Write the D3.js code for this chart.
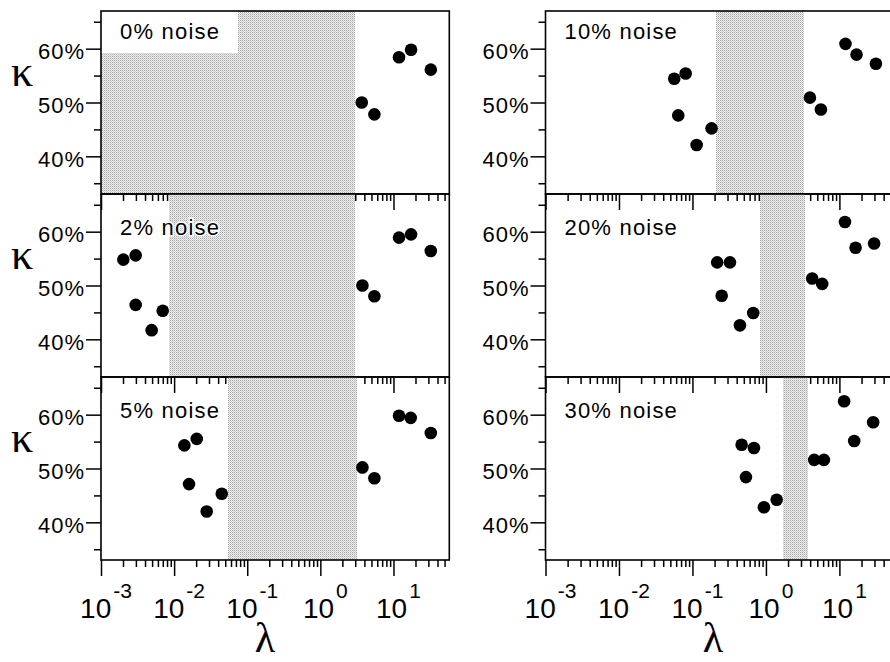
<!DOCTYPE html>
<html><head><meta charset="utf-8">
<script src="https://cdn.jsdelivr.net/npm/d3@7/dist/d3.min.js"></script>
<style>body{margin:0;background:#fff}svg{display:block}</style>
</head><body>
<svg id="c" width="890" height="662"></svg>
<script>
// ---- data ----
const noiseLabels = ["0% noise","2% noise","5% noise","10% noise","20% noise","30% noise"];
const decadeExps = [-3,-2,-1,0,1];
const kappaMajor = [0.40,0.50,0.60];
const kappaMinor = [0.35,0.45,0.55,0.65];
const shadeLo = [0.001, 0.0084, 0.054, 0.209, 0.828, 1.72];
const shadeHi = [2.99, 2.99, 3.15, 3.29, 3.40, 3.69];
const labelBox = [true,false,false,false,false,false];

const lambda0 = [3.68, 5.48, 11.9, 17.4, 32.4];
const kappa0  = [50.0, 47.8, 58.4, 59.8, 56.1];
const lambda2 = [0.00202, 0.00298, 0.00298, 0.00493, 0.00698, 3.76, 5.48, 11.9, 17.4, 32.4];
const kappa2  = [54.8, 55.6, 46.4, 41.7, 45.3, 50.0, 48.0, 58.9, 59.5, 56.4];
const lambda5 = [0.0138, 0.0204, 0.016, 0.0279, 0.0448, 3.76, 5.48, 11.9, 17.2, 32.4];
const kappa5  = [54.3, 55.5, 47.1, 42.0, 45.3, 50.2, 48.2, 59.8, 59.4, 56.6];
const lambda10 = [0.0565, 0.0808, 0.0641, 0.114, 0.182, 3.97, 5.6, 12.1, 17.1, 31.4];
const kappa10  = [54.4, 55.4, 47.6, 42.1, 45.2, 50.9, 48.7, 60.9, 58.9, 57.2];
const lambda20 = [0.217, 0.324, 0.25, 0.443, 0.672, 4.26, 5.83, 11.9, 16.6, 29.7];
const kappa20  = [54.3, 54.3, 48.1, 42.6, 44.9, 51.3, 50.3, 61.8, 57.0, 57.8];
const lambda30 = [0.467, 0.687, 0.535, 0.94, 1.40, 4.54, 6.15, 11.6, 15.9, 28.8];
const kappa30  = [54.4, 53.8, 48.4, 42.8, 44.2, 51.6, 51.6, 62.5, 55.1, 58.6];

const lambdas = [lambda0, lambda2, lambda5, lambda10, lambda20, lambda30];
const kappas  = [kappa0, kappa2, kappa5, kappa10, kappa20, kappa30];

// ---- layout ----
const colLeft = [101, 545.5], colWidth = [348.3, 350];
const rowTop = [11, 194, 377], panelH = 183;
const xDomain = [0.001, 58], yDomain = [0.33, 0.67];
const sans = "'Liberation Sans', Arial, Helvetica, sans-serif";
const serif = "'Liberation Serif', 'Times New Roman', serif";

const svg = d3.select("#c");
const defs = svg.append("defs");
const pat = defs.append("pattern").attr("id","stip").attr("width",2).attr("height",2)
  .attr("patternUnits","userSpaceOnUse");
pat.append("rect").attr("width",2).attr("height",2).attr("fill","#efefef");
pat.append("rect").attr("width",1).attr("height",1).attr("fill","#a6a6a6");
pat.append("rect").attr("x",1).attr("y",1).attr("width",1).attr("height",1).attr("fill","#cdcdcd");

const minorVals = [];
decadeExps.forEach(e => { for (let m=2;m<=9;m++){ const v=m*Math.pow(10,e); if (v<=xDomain[1]) minorVals.push(v);} });
const majorVals = decadeExps.map(e => Math.pow(10,e));

for (let p=0;p<6;p++){
  const col = p<3?0:1, row = p%3;
  const L = colLeft[col], Wd = colWidth[col], T = rowTop[row];
  const x = d3.scaleLog().domain(xDomain).range([L, L+Wd]);
  const y = d3.scaleLinear().domain(yDomain).range([T+panelH, T]);
  const g = svg.append("g");

  // shade
  const x0 = Math.max(x(shadeLo[p]), L), x1 = Math.min(x(shadeHi[p]), L+Wd);
  g.append("rect").attr("x",x0).attr("y",T).attr("width",x1-x0).attr("height",panelH)
    .attr("fill","url(#stip)").attr("shape-rendering","crispEdges");
  if (labelBox[p]) {
    g.append("rect").attr("x",L).attr("y",T).attr("width",137).attr("height",42).attr("fill","#fff");
  }

  // dots
  g.selectAll("circle.d").data(lambdas[p].map((l,i)=>[l,kappas[p][i]/100])).enter()
    .append("circle").attr("cx",d=>x(d[0])).attr("cy",d=>y(d[1])).attr("r",6.3).attr("fill","#000");

  // noise label
  g.append("text").attr("x",L+19).attr("y",T+(row===0?28:41))
    .attr("font-family",sans).attr("font-size",22).attr("letter-spacing","1.2px")
    .attr("fill","#000").attr("stroke","#fff").attr("stroke-width",3).attr("paint-order","stroke")
    .text(noiseLabels[p]);

  // frame
  g.append("rect").attr("x",L).attr("y",T).attr("width",Wd).attr("height",panelH)
    .attr("fill","none").attr("stroke","#000").attr("stroke-width",1.6);

  // y axis
  const yMaj = g.append("g").attr("transform",`translate(${L},0)`)
    .call(d3.axisLeft(y).tickValues(kappaMajor).tickSize(15).tickSizeOuter(0).tickPadding(1)
      .tickFormat(d=>Math.round(d*100)+"%"));
  const yMin = g.append("g").attr("transform",`translate(${L},0)`)
    .call(d3.axisLeft(y).tickValues(kappaMinor).tickSize(7).tickSizeOuter(0).tickFormat(""));
  [yMaj,yMin].forEach(a=>{ a.select(".domain").remove(); a.selectAll("line").attr("stroke-width",1.5); });
  yMaj.selectAll("text").attr("font-family",sans).attr("font-size",22).attr("letter-spacing","1px")
    .attr("dy","0.45em").attr("fill","#000");

  // x axis (bottom, outward ticks)
  const xMaj = g.append("g").attr("transform",`translate(0,${T+panelH})`)
    .call(d3.axisBottom(x).tickValues(majorVals).tickSize(16).tickSizeOuter(0).tickFormat(""));
  const xMin = g.append("g").attr("transform",`translate(0,${T+panelH})`)
    .call(d3.axisBottom(x).tickValues(minorVals).tickSize(7).tickSizeOuter(0).tickFormat(""));
  [xMaj,xMin].forEach(a=>{ a.select(".domain").remove(); a.selectAll("line").attr("stroke-width",1.5); });

  if (col===0) {
    g.append("text").attr("x",22).attr("y",T+75).attr("text-anchor","middle")
      .attr("font-family",serif).attr("font-size",44).text("κ");
  }

  if (row===2) {
    decadeExps.forEach(e=>{
      const t = g.append("text").attr("x",x(Math.pow(10,e))+5).attr("y",618)
        .attr("text-anchor","middle").attr("font-family",sans).attr("font-size",28);
      t.append("tspan").text("10");
      t.append("tspan").attr("dx",2).attr("dy",-20).attr("font-size",21).text(String(e));
    });
    g.append("text").attr("x",col===0?265:713).attr("y",652).attr("text-anchor","middle")
      .attr("font-family",serif).attr("font-size",42).text("λ");
  }
}
</script>
</body></html>
